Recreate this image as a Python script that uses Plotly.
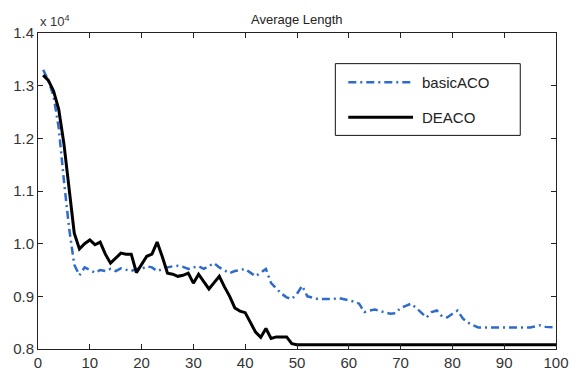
import plotly.graph_objects as go

iterations = list(range(1, 101))

# Average length values (actual units; axis shows x 10^4)
basic_aco = [1.33, 1.31, 1.28, 1.22, 1.12, 1.03, 0.96, 0.94, 0.955, 0.95,
             0.945, 0.95, 0.948, 0.952, 0.948, 0.953, 0.95, 0.948, 0.952, 0.952,
             0.957, 0.955, 0.948, 0.952, 0.955, 0.957, 0.958, 0.956, 0.952, 0.955,
             0.957, 0.952, 0.958, 0.963, 0.955, 0.95, 0.944, 0.948, 0.95, 0.952,
             0.945, 0.938, 0.945, 0.952, 0.925, 0.915, 0.905, 0.898, 0.895, 0.905,
             0.92, 0.9, 0.897, 0.895, 0.895, 0.895, 0.895, 0.897, 0.895, 0.892,
             0.89, 0.886, 0.87, 0.873, 0.875, 0.872, 0.87, 0.867, 0.868, 0.878,
             0.882, 0.886, 0.878, 0.868, 0.86, 0.87, 0.873, 0.862, 0.86, 0.867,
             0.873, 0.858, 0.85, 0.845, 0.841, 0.841, 0.841, 0.841, 0.841, 0.841,
             0.841, 0.841, 0.841, 0.841, 0.841, 0.843, 0.845, 0.842, 0.841, 0.841]
basic_aco = [v * 1e4 for v in basic_aco]

deaco = [1.32, 1.31, 1.29, 1.255, 1.19, 1.1, 1.02, 0.99, 1.0, 1.007,
         0.998, 1.003, 0.98, 0.963, 0.972, 0.982, 0.98, 0.98, 0.945, 0.96,
         0.976, 0.98, 1.003, 0.975, 0.944, 0.942, 0.938, 0.94, 0.944, 0.925,
         0.942, 0.928, 0.914, 0.926, 0.938, 0.918, 0.9, 0.878, 0.872, 0.869,
         0.85, 0.832, 0.822, 0.839, 0.82, 0.823, 0.823, 0.823, 0.81, 0.808] + [0.808] * 50
deaco = [v * 1e4 for v in deaco]

series_names = ["basicACO", "DEACO"]
scale = 1e4
x_ticks = list(range(0, 101, 10))
y_ticks = [0.8, 0.9, 1.0, 1.1, 1.2, 1.3, 1.4]

styles = [dict(color="#2F6BCB", width=2.5, dash="8px,4px,2px,4px"),
          dict(color="#000000", width=3)]

fig = go.Figure()
for name, vals, st in zip(series_names, [basic_aco, deaco], styles):
    fig.add_trace(go.Scatter(x=iterations, y=[v / scale for v in vals], mode="lines",
                             name=name, line=st, showlegend=False))

font_fam = "Liberation Sans, Arial"
axis_common = dict(showline=True, linecolor="#222", linewidth=1, mirror="ticks",
                   ticks="inside", ticklen=5, tickcolor="#222", showgrid=False,
                   zeroline=False, tickfont=dict(family=font_fam, size=15, color="#333"))

# Legend drawn as box + sample lines + text labels (paper coordinates)
shapes = [dict(type="rect", xref="paper", yref="paper", x0=0.574, x1=0.931, y0=0.676, y1=0.903,
               line=dict(color="#111", width=1), fillcolor="white", layer="above")]
annotations = []
legend_rows_y = [0.844, 0.733]
for name, st, yy in zip(series_names, styles, legend_rows_y):
    shapes.append(dict(type="line", xref="paper", yref="paper", x0=0.599, x1=0.724, y0=yy, y1=yy,
                       line=st, layer="above"))
    annotations.append(dict(text=name, x=0.737, y=yy, xref="paper", yref="paper",
                            xanchor="left", yanchor="middle", showarrow=False,
                            font=dict(family=font_fam, size=15, color="#222")))

annotations += [
    dict(text="Average Length", x=0.5, y=1.0, xref="paper", yref="paper",
         xanchor="center", yanchor="bottom", yshift=4, showarrow=False,
         font=dict(family=font_fam, size=13, color="#222")),
    dict(text="x 10<sup>4</sup>", x=0, y=1.0, xref="paper", yref="paper",
         xanchor="left", yanchor="bottom", yshift=2, showarrow=False,
         font=dict(family=font_fam, size=13, color="#333")),
]

fig.update_layout(
    width=581, height=383,
    margin=dict(l=38, r=22, t=33, b=29),
    paper_bgcolor="white", plot_bgcolor="white",
    font=dict(family=font_fam, color="#333"),
    xaxis=dict(range=[0, 100], tickvals=x_ticks, **axis_common),
    yaxis=dict(range=[0.8, 1.4], tickvals=y_ticks, tickformat=".1f", **axis_common),
    showlegend=False,
    shapes=shapes,
    annotations=annotations,
)

fig.write_html("out.html")
